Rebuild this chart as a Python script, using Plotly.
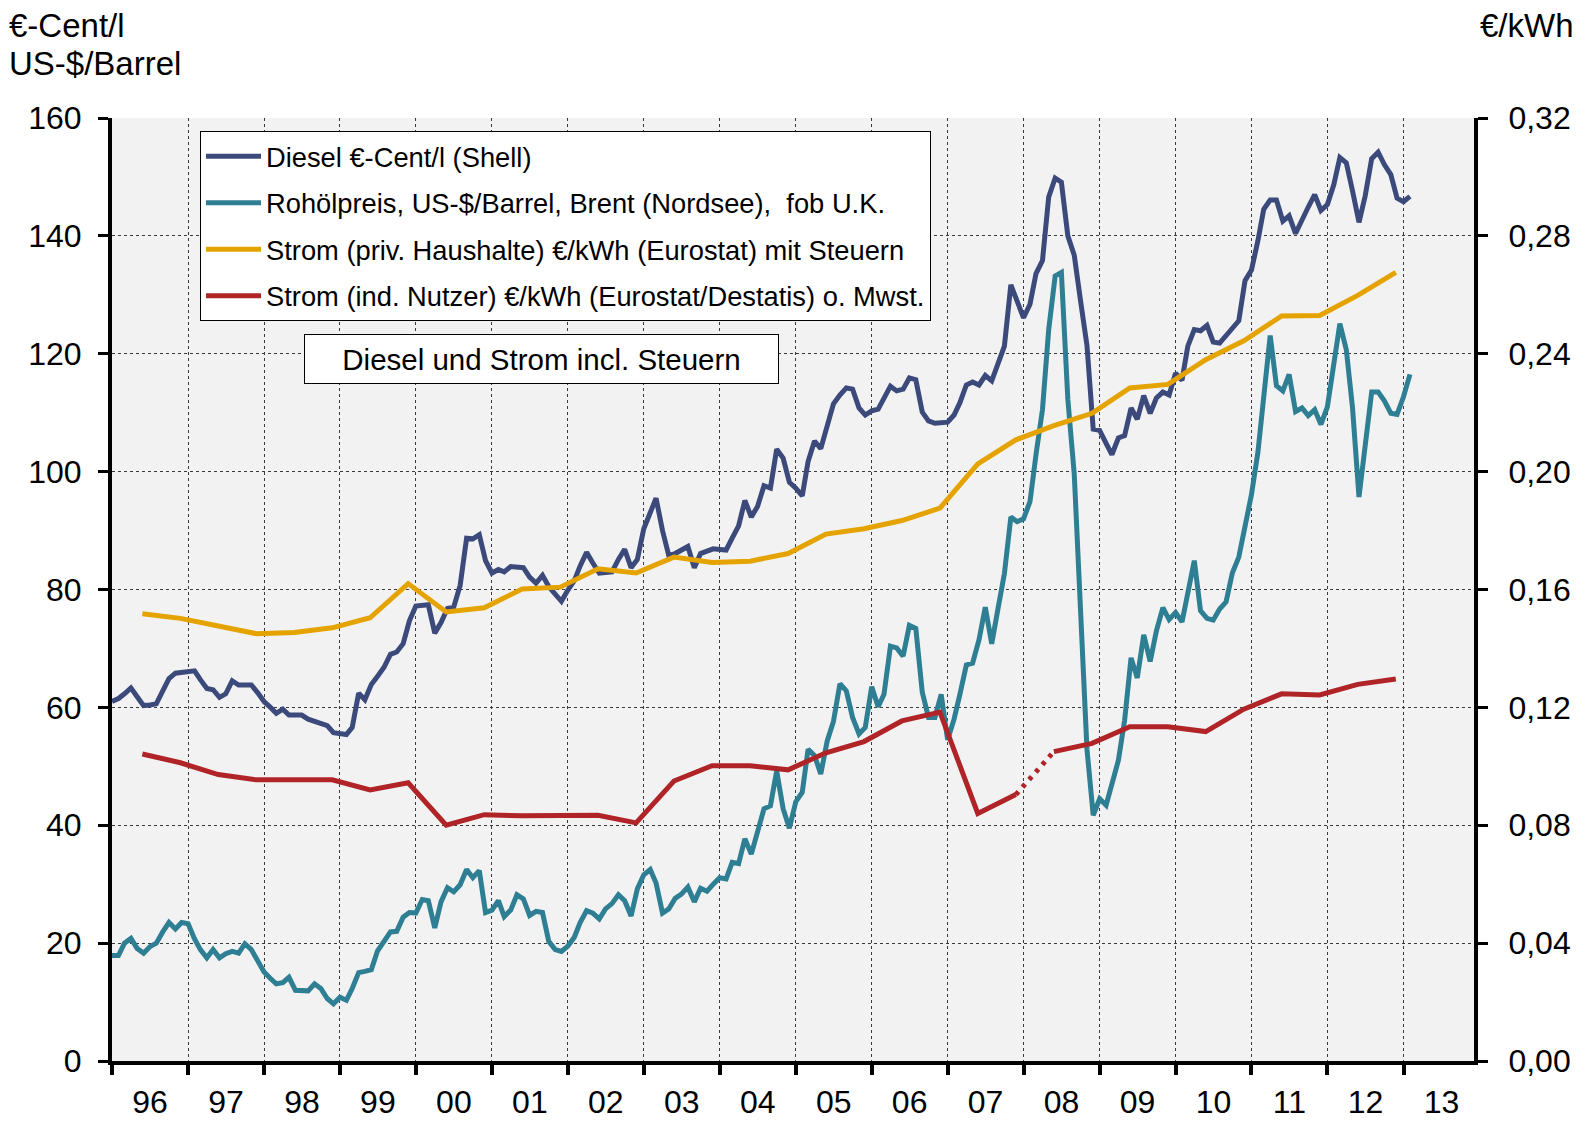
import pandas as pd
import plotly.graph_objects as go

# ---------------- data ----------------
# monthly values Jan 1996 .. Feb 2013
diesel_cent_l = [
    61.0, 61.5, 62.3, 63.3, 61.8, 60.3, 60.4, 60.6, 62.8, 64.9, 65.8, 66.0,
    66.1, 66.2, 64.7, 63.2, 63.0, 61.7, 62.3, 64.5, 63.8, 63.8, 63.8, 62.5,
    61.0, 60.0, 59.0, 59.7, 58.7, 58.7, 58.7, 58.0, 57.6, 57.2, 56.9, 55.7,
    55.5, 55.4, 56.6, 62.4, 61.3, 63.9, 65.3, 66.8, 69.0, 69.4, 70.8, 74.7,
    77.2, 77.3, 77.4, 72.6, 74.4, 76.8, 77.0, 80.7, 88.7, 88.6, 89.3, 84.9,
    82.8, 83.4, 83.0, 83.9, 83.8, 83.7, 82.1, 81.1, 82.4, 80.5, 79.2, 78.0,
    79.9, 81.5, 84.0, 86.3, 84.5, 82.8, 82.9, 83.0, 85.1, 86.8, 83.7, 85.1,
    90.3, 93.0, 95.5, 90.0, 85.8, 86.1, 86.7, 87.3, 83.7, 86.1, 86.5, 86.9,
    86.8, 86.7, 88.7, 90.8, 95.1, 92.3, 94.1, 97.6, 97.2, 103.8, 102.3, 98.2,
    97.2, 95.9, 101.7, 105.2, 103.9, 108.2, 111.5, 113.0, 114.2, 114.0, 110.8, 109.6,
    110.3, 110.6, 112.4, 114.5, 113.7, 114.0, 115.9, 115.6, 110.1, 108.6, 108.2, 108.2,
    108.4, 109.6, 111.7, 114.7, 115.2, 114.7, 116.3, 115.4, 118.6, 121.3, 131.7, 129.0,
    126.1, 128.4, 133.6, 135.8, 146.6, 149.8, 149.1, 140.0, 136.7, 129.0, 121.4, 107.2,
    107.0, 104.8, 102.9, 105.7, 106.1, 110.8, 108.9, 112.9, 109.9, 112.5, 113.5, 113.0,
    116.7, 115.5, 121.3, 124.1, 123.9, 124.8, 122.0, 121.8, 123.0, 124.1, 125.6, 132.4,
    134.2, 139.2, 144.5, 146.1, 146.1, 142.5, 143.4, 140.4, 142.8, 144.9, 147.0, 144.3,
    145.3, 148.7, 153.3, 152.4, 147.6, 142.3, 146.8, 153.1, 154.2, 152.1, 150.4, 146.4,
    145.8, 146.7,
]

brent_usd_barrel = [
    17.9, 17.9, 20.0, 20.8, 19.1, 18.3, 19.4, 20.0, 21.9, 23.5, 22.4, 23.5,
    23.3, 20.7, 18.9, 17.5, 18.9, 17.5, 18.2, 18.6, 18.3, 19.9, 18.9, 17.2,
    15.1, 14.0, 13.1, 13.3, 14.2, 12.0, 12.0, 11.9, 13.1, 12.3, 10.6, 9.7,
    10.8, 10.3, 12.3, 15.0, 15.2, 15.5, 18.7, 20.5, 21.9, 22.0, 24.4, 25.2,
    25.1, 27.4, 27.2, 22.6, 27.0, 29.4, 28.7, 29.9, 32.5, 31.1, 32.3, 25.2,
    25.6, 27.2, 24.5, 25.6, 28.2, 27.5, 24.7, 25.4, 25.2, 20.3, 18.9, 18.6,
    19.5, 21.0, 23.5, 25.5, 25.1, 24.1, 25.8, 26.7, 28.2, 27.2, 24.6, 29.2,
    31.6, 32.5, 30.2, 25.1, 25.8, 27.6, 28.3, 29.5, 27.0, 29.3, 28.8, 30.0,
    31.1, 30.9, 33.7, 33.5, 37.7, 35.1, 38.6, 42.8, 43.3, 49.2, 42.8, 39.5,
    44.0, 45.6, 52.9, 51.8, 48.7, 54.3, 57.6, 64.0, 62.8, 58.3, 55.5, 56.6,
    63.5, 60.1, 62.2, 70.4, 70.1, 68.7, 73.9, 73.4, 62.6, 58.3, 58.3, 62.2,
    54.5, 58.0, 62.2, 67.2, 67.5, 71.5, 77.0, 70.8, 76.9, 82.7, 92.3, 91.5,
    92.0, 94.9, 102.9, 110.5, 124.1, 133.2, 133.8, 112.3, 99.5, 74.5, 52.9, 41.7,
    44.5, 43.4, 47.2, 51.0, 57.8, 68.4, 65.0, 72.3, 67.8, 73.0, 76.9, 74.9,
    76.1, 74.5, 79.4, 84.9, 76.4, 75.1, 74.8, 76.7, 77.9, 82.8, 85.5, 90.4,
    96.1, 103.3, 113.5, 123.1, 114.6, 113.7, 116.5, 110.2, 110.8, 109.5, 110.5, 108.0,
    111.0, 118.4, 125.1, 120.7, 110.8, 95.7, 104.4, 113.5, 113.5, 112.0, 109.9, 109.7,
    112.7, 116.5,
]

# half-yearly electricity prices 1996 S1 .. 2012 S2 (EUR/kWh)
strom_haushalte = [
    0.1518, 0.1502, 0.1476, 0.1450, 0.1454, 0.1470, 0.1504, 0.1620, 0.1524, 0.1538,
    0.1602, 0.1608, 0.1670, 0.1656, 0.1710, 0.1692, 0.1696, 0.1722, 0.1788, 0.1806,
    0.1834, 0.1876, 0.2026, 0.2108, 0.2156, 0.2198, 0.2284, 0.2296, 0.2380, 0.2444,
    0.2528, 0.2530, 0.2598, 0.2676,
]
strom_industrie = [
    0.1042, 0.1012, 0.0972, 0.0954, 0.0954, 0.0954, 0.0920, 0.0944, 0.0800, 0.0836,
    0.0832, 0.0834, 0.0834, 0.0808, 0.0950, 0.1002, 0.1002, 0.0988, 0.1046, 0.1084,
    0.1154, 0.1184, 0.0840, 0.0904, 0.1050, 0.1078, 0.1134, 0.1134, 0.1118, 0.1194,
    0.1246, 0.1242, 0.1278, 0.1296,
]
strom_years = list(range(1996, 2013))
gap_index = 23  # segment 2007 S2 -> 2008 S1 drawn dotted (break in series)

names = [
    "Diesel €-Cent/l (Shell)",
    "Rohölpreis, US-$/Barrel, Brent (Nordsee), \u00a0fob U.K.",
    "Strom (priv. Haushalte) €/kWh (Eurostat) mit Steuern",
    "Strom (ind. Nutzer) €/kWh (Eurostat/Destatis) o. Mwst.",
]
colors = ["#3b4a7b", "#2e7f93", "#e5a300", "#b02428"]

# ---------------- build ----------------
months = pd.date_range("1996-01-01", periods=len(diesel_cent_l), freq="MS")
strom_dates = []
for y in strom_years:
    strom_dates += [f"{y}-05-26", f"{y}-11-25"]
strom_dates = pd.to_datetime(strom_dates)

FONT = "Liberation Sans, Arial, sans-serif"
fig = go.Figure()
LW = 5

fig.add_trace(go.Scatter(x=months, y=diesel_cent_l, name=names[0], mode="lines",
                         line=dict(color=colors[0], width=LW), legendgroup="a"))
fig.add_trace(go.Scatter(x=months, y=brent_usd_barrel, name=names[1], mode="lines",
                         line=dict(color=colors[1], width=LW), legendgroup="b"))
fig.add_trace(go.Scatter(x=strom_dates, y=strom_haushalte, name=names[2], mode="lines",
                         line=dict(color=colors[2], width=LW), yaxis="y2", legendgroup="c"))

# industry: solid with a break, dotted bridge
ind_x = list(strom_dates[:gap_index + 1]) + [None] + list(strom_dates[gap_index + 1:])
ind_y = strom_industrie[:gap_index + 1] + [None] + strom_industrie[gap_index + 1:]
fig.add_trace(go.Scatter(x=ind_x, y=ind_y, name=names[3], mode="lines", connectgaps=False,
                         line=dict(color=colors[3], width=LW), yaxis="y2", legendgroup="d"))
fig.add_trace(go.Scatter(x=strom_dates[gap_index:gap_index + 2],
                         y=strom_industrie[gap_index:gap_index + 2],
                         mode="lines", showlegend=False, yaxis="y2",
                         line=dict(color=colors[3], width=LW, dash="4px,6px")))

W, H = 1585, 1124
L, R, T, B = 112, 111, 118, 63
pw, ph = W - L - R, H - T - B


def px(x):
    return (x - L) / pw


def py(y):
    return (H - B - y) / ph


fig.update_layout(
    width=W, height=H,
    margin=dict(l=L, r=R, t=T, b=B, pad=0, autoexpand=False),
    paper_bgcolor="white", plot_bgcolor="#f2f2f2",
    separators=",.",
    font=dict(family=FONT, size=32, color="black"),
    showlegend=True,
    legend=dict(x=px(200), y=py(131), xanchor="left", yanchor="top",
                bgcolor="white", bordercolor="black", borderwidth=1,
                font=dict(family=FONT, size=27.3, color="black"),
                tracegroupgap=8, itemwidth=55, traceorder="grouped"),
    xaxis=dict(type="date", range=["1996-01-01", "2013-12-06"],
               tick0="1996-01-01", dtick="M12", tickformat="%y",
               ticklabelmode="period", automargin=False,
               showgrid=True, gridcolor="#3a3a3a", gridwidth=1, griddash="dot",
               showline=True, linecolor="black", linewidth=4,
               ticks="outside", ticklen=10, tickwidth=4, tickcolor="black",
               tickfont=dict(size=32), zeroline=False),
    yaxis=dict(range=[0, 160], dtick=20, tick0=0, automargin=False,
               showgrid=True, gridcolor="#3a3a3a", gridwidth=1, griddash="dot",
               showline=True, linecolor="black", linewidth=4,
               ticks="outside", ticklen=10, tickwidth=3, tickcolor="black",
               ticklabelstandoff=10, tickfont=dict(size=32), zeroline=False),
    yaxis2=dict(range=[0, 0.32], dtick=0.04, tick0=0, overlaying="y", side="right",
                tickformat=".2f", showgrid=False, automargin=False,
                showline=True, linecolor="black", linewidth=4,
                ticks="outside", ticklen=10, tickwidth=3, tickcolor="black",
                ticklabelstandoff=14, tickfont=dict(size=32), zeroline=False),
)

ann = [
    dict(text="€-Cent/l", x=px(7), y=py(26), xanchor="left", yanchor="middle"),
    dict(text="US-$/Barrel", x=px(7), y=py(63), xanchor="left", yanchor="middle"),
    dict(text="€/kWh", x=px(1576), y=py(26), xanchor="right", yanchor="middle"),
]
for a in ann:
    fig.add_annotation(xref="paper", yref="paper", showarrow=False,
                       font=dict(family=FONT, size=33, color="black"), **a)

fig.add_annotation(xref="paper", yref="paper", showarrow=False,
                   text="Diesel und Strom incl. Steuern",
                   x=px((304 + 779) / 2), y=py(359), xanchor="center", yanchor="middle",
                   width=471, height=46, borderpad=1, bgcolor="white",
                   bordercolor="black", borderwidth=1,
                   font=dict(family=FONT, size=29.5, color="black"))

fig.write_html("out.html", config={"displayModeBar": False},
               post_script="document.body.style.margin='0';document.body.style.overflow='hidden';")
